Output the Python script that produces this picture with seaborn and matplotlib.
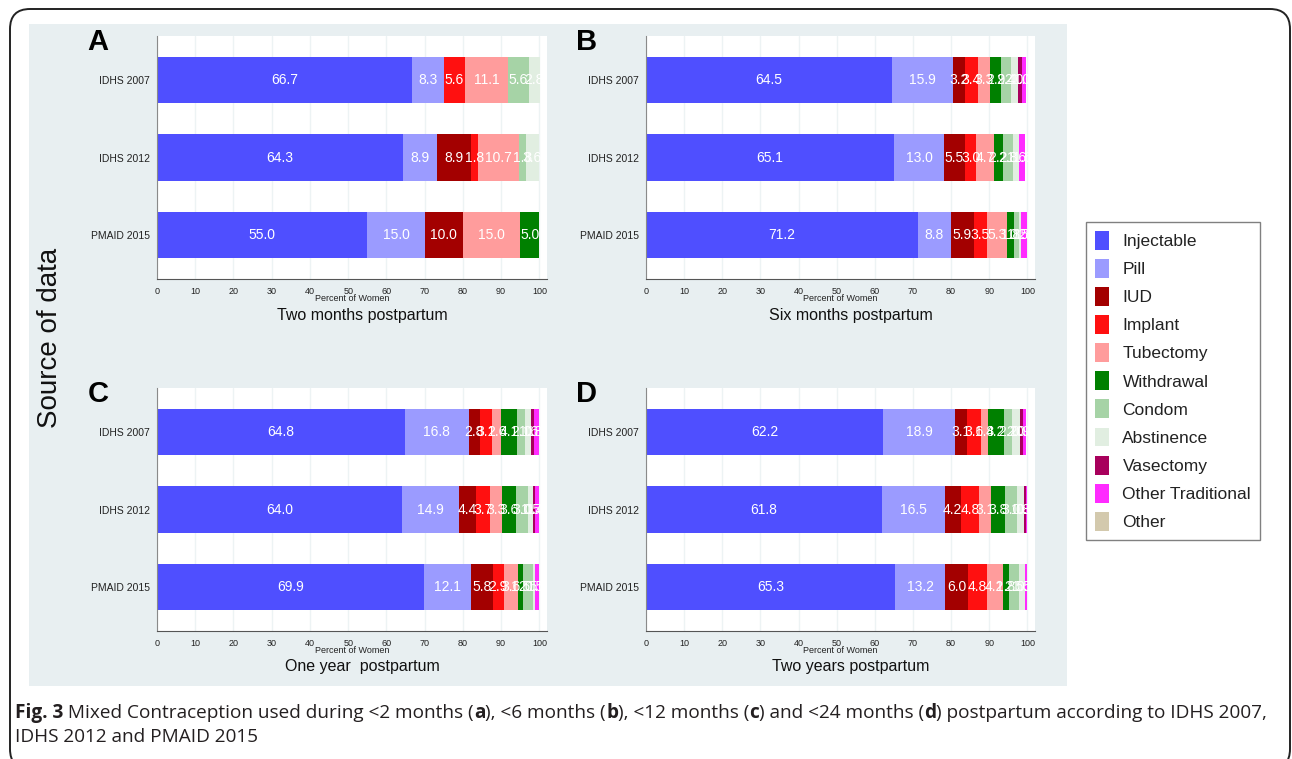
# stacked horizontal bars: mixed contraception postpartum, four panels

import pandas as pd
import seaborn as sns
import matplotlib.pyplot as plt
from matplotlib.patches import Patch, Rectangle, FancyBboxPatch

# data
sources = ['IDHS 2007', 'IDHS 2012', 'PMAID 2015']
methods = ['Injectable', 'Pill', 'IUD', 'Implant', 'Tubectomy', 'Withdrawal',
           'Condom', 'Abstinence', 'Vasectomy', 'Other Traditional', 'Other']
method_colors = ['#4f4fff', '#9b9bff', '#a30000', '#ff1010', '#ff9c9c', '#008000',
                 '#a6d3a6', '#e1eee1', '#a8005c', '#ff2bff', '#d3c9ad']

# rows = sources, columns = methods (percent of women)
two_months = [
    [66.7, 8.3, 0.0, 5.6, 11.1, 0.0, 5.6, 2.8, 0.0, 0.0, 0.0],
    [64.3, 8.9, 8.9, 1.8, 10.7, 0.0, 1.8, 3.6, 0.0, 0.0, 0.0],
    [55.0, 15.0, 10.0, 0.0, 15.0, 5.0, 0.0, 0.0, 0.0, 0.0, 0.0],
]
six_months = [
    [64.5, 15.9, 3.2, 3.4, 3.3, 2.9, 2.4, 2.0, 1.0, 1.0, 0.0],
    [65.1, 13.0, 5.5, 3.0, 4.7, 2.2, 2.8, 1.6, 0.0, 1.6, 0.0],
    [71.2, 8.8, 5.9, 3.5, 5.3, 1.8, 1.2, 0.5, 0.0, 1.8, 0.0],
]
one_year = [
    [64.8, 16.8, 2.8, 3.1, 2.6, 4.1, 2.1, 1.6, 0.8, 1.1, 0.0],
    [64.0, 14.9, 4.4, 3.7, 3.3, 3.6, 3.0, 1.5, 0.4, 1.2, 0.0],
    [69.9, 12.1, 5.8, 2.9, 3.6, 1.5, 2.5, 0.5, 0.0, 1.0, 0.0],
]
two_years = [
    [62.2, 18.9, 3.1, 3.6, 1.8, 4.2, 2.2, 2.0, 0.9, 0.8, 0.0],
    [61.8, 16.5, 4.2, 4.8, 3.1, 3.8, 3.0, 1.8, 0.6, 0.4, 0.0],
    [65.3, 13.2, 6.0, 4.8, 4.2, 1.8, 2.5, 1.5, 0.0, 0.6, 0.0],
]
panel_letters = ['A', 'B', 'C', 'D']
panel_titles = ['Two months postpartum', 'Six months postpartum',
                'One year  postpartum', 'Two years postpartum']
xticks = list(range(0, 101, 10))

W, H = 1292, 759
sns.set_theme(style='white')
plt.rcParams['font.family'] = ['Liberation Sans', 'DejaVu Sans']

fig = plt.figure(figsize=(W / 100, H / 100), dpi=100)

# outer rounded frame and grey plot region (behind the axes)
fig.patches.append(FancyBboxPatch((10 / 100, -10 / 100), 1280 / 100, 760 / 100,
                                  boxstyle='round,pad=0,rounding_size=0.2',
                                  transform=fig.dpi_scale_trans, fill=False,
                                  edgecolor='#222222', linewidth=1.4, zorder=-2))
fig.patches.append(Rectangle((29 / W, 1 - 686 / H), (1067 - 29) / W, (686 - 24) / H,
                             transform=fig.transFigure, facecolor='#e8eff1',
                             edgecolor='none', zorder=-2))

# axes boxes in pixels: left, top, right, bottom
boxes = [(157, 36, 547, 279), (646, 36, 1035, 279),
         (157, 388, 547, 631), (646, 388, 1035, 631)]
panels = [two_months, six_months, one_year, two_years]

for data, box, letter, title in zip(panels, boxes, panel_letters, panel_titles):
    l, t, r, b = box
    ax = fig.add_axes([l / W, 1 - b / H, (r - l) / W, (b - t) / H])
    ax.set_facecolor('white')

    df = pd.DataFrame(data, index=sources, columns=methods)
    cum = df.cumsum(axis=1)
    long = cum.reset_index().melt(id_vars='index', var_name='method', value_name='cum')
    long = long.rename(columns={'index': 'source'})

    # draw cumulative bars from the last method back to the first
    for m, c in reversed(list(zip(methods, method_colors))):
        sub = long[long['method'] == m]
        sns.barplot(data=sub, x='cum', y='source', order=sources, orient='h',
                    color=c, saturation=1, width=0.6, errorbar=None,
                    linewidth=0, ax=ax, zorder=2)

    # value labels in each segment
    for i, s in enumerate(sources):
        for m in methods:
            v = df.loc[s, m]
            if v > 0:
                ax.text(cum.loc[s, m] - v / 2, i, f'{v:.1f}', ha='center', va='center',
                        color='white', fontsize=10, zorder=3)

    ax.set_xlim(0, 102)
    ax.set_ylim(2.57, -0.57)
    ax.set_xticks(xticks)
    ax.xaxis.grid(True, color='#edf3f4', linewidth=1)
    ax.set_axisbelow(True)
    for sp in ['top', 'right']:
        ax.spines[sp].set_visible(False)
    ax.spines['left'].set_color('#8a8a8a')
    ax.spines['bottom'].set_color('#555555')
    ax.spines['left'].set_linewidth(0.8)
    ax.spines['bottom'].set_linewidth(0.8)
    ax.tick_params(axis='x', length=4, width=0.8, color='#555555', labelsize=6.5,
                   labelcolor='#222222', pad=2)
    ax.tick_params(axis='y', length=0, labelsize=7.5, labelcolor='#222222', pad=5)
    ax.set_ylabel('')
    ax.set_xlabel('Percent of Women', fontsize=6.5, color='#222222', labelpad=-2)

    cx = (l + r) / 2 + 10
    fig.text(cx / W, 1 - (b + 36) / H, title, ha='center', va='center',
             fontsize=11.5, color='#111111')
    fig.text((l - 59) / W, 1 - (t + 6) / H, letter, ha='center', va='center',
             fontsize=21, fontweight='bold', color='black')

fig.text(50 / W, 1 - 338 / H, 'Source of data', rotation=90, ha='center', va='center',
         fontsize=20, color='#111111')

handles = [Patch(facecolor=c, edgecolor='none') for c in method_colors]
fig.legend(handles, methods, loc='upper left', bbox_to_anchor=(1086 / W, 1 - 222 / H),
           frameon=True, fancybox=False, edgecolor='#808080', framealpha=1,
           fontsize=12.5, labelspacing=0.53, handlelength=0.8, handleheight=1.3,
           handletextpad=0.8, borderpad=0.5, borderaxespad=0, labelcolor='#222222')

# caption with bold parts
renderer = fig.canvas.get_renderer()


def rich_line(x, y, parts):
    for txt, bold in parts:
        tx = fig.text(x / W, 1 - y / H, txt, ha='left', va='center', fontsize=13.7,
                      family=['Open Sans', 'DejaVu Sans'], color='#231f20',
                      fontweight='bold' if bold else 'normal')
        x += tx.get_window_extent(renderer).width


rich_line(15, 713, [('Fig. 3', True), (' Mixed Contraception used during <2 months (', False),
                    ('a', True), ('), <6 months (', False), ('b', True),
                    ('), <12 months (', False), ('c', True), (') and <24 months (', False),
                    ('d', True), (') postpartum according to IDHS 2007,', False)])
rich_line(15, 737, [('IDHS 2012 and PMAID 2015', False)])

plt.savefig('out.png', dpi=100)
